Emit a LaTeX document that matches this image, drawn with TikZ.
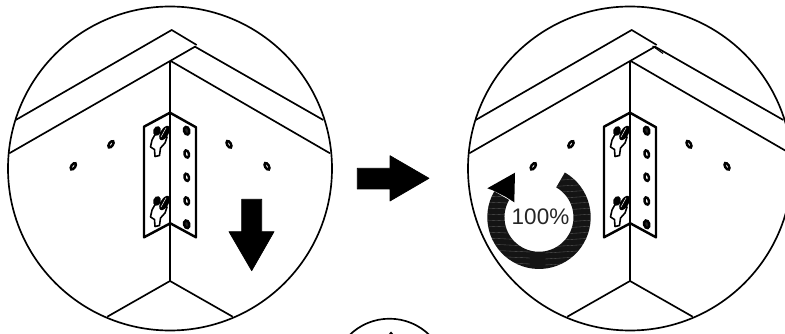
\documentclass[tikz,border=0pt]{standalone}
\usepackage{fontspec}
\setmainfont{Liberation Sans}
\tikzset{
  outline/.style={draw=black,line width=0.95pt},
  bracketline/.style={draw=black,line width=1.4pt,line join=round},
  solidarrow/.style={fill=black,draw=black,line width=0.4pt,line join=round},
  holemark/.style={draw=black,fill=white,line width=1.4pt},
}
\begin{document}
\begin{tikzpicture}[x=0.02cm,y=-0.02cm]
\useasboundingbox (0,0) rectangle (785,334);
\clip (0,0) rectangle (785,334);
% the two round views
\foreach \panelx in {0,460} {
\begin{scope}[xshift=\panelx*0.02cm]
\draw[outline] (170,168.5) circle[radius=162];
\draw[outline] (15.7,120) -- (171.7,30) -- (196.7,45);
\draw[outline] (9.3,153.3) -- (195,46.7) -- (323.3,120);
\draw[outline] (170.7,61) -- (330,153.3);
\draw[outline] (170,61) -- (170,281.5);
\draw[outline] (107.3,316.7) -- (170,281) -- (232.7,316.7);
\draw[bracketline] (144,126.7) -- (170,112.7) -- (196,127.3) -- (196,237.3) -- (170.3,223.3) -- (144,237.3) -- cycle;
% holes in the wall
\foreach \holex/\holey/\holetilt in {111/144.3/-35,73.3/166.3/-35,229/144.3/30,267/166.3/30}
  \draw[holemark] (\holex,\holey) circle[x radius=1.9,y radius=3.7,rotate=\holetilt];
% holes in the bracket
\foreach \holey in {154,177.3,201}
  \draw[holemark] (186.7,\holey) circle[x radius=2.2,y radius=3.7,rotate=15];
\foreach \holey in {130.7,224.3}
  \draw[holemark,fill=black!85] (186.7,\holey) circle[x radius=2.6,y radius=3.9,rotate=15];
% keyholes and screws
\foreach \screwy in {0,70} {
\draw[draw=black,fill=white,line width=0.9pt,line join=round] (157,131+\screwy) -- (152,140+\screwy) -- (150.5,147+\screwy) -- (154.5,149.5+\screwy) -- (155,156.5+\screwy) -- (159.5,155.5+\screwy) -- (160.5,148+\screwy) -- (165,143+\screwy) -- (167,137+\screwy) -- cycle;
\fill[black] (157,131+\screwy) circle[x radius=3.8,y radius=5,rotate=-20];
\fill[black] (164.5,133+\screwy) circle[x radius=4,y radius=8,rotate=-30];
\draw[white,line width=0.3pt] (161,137+\screwy) -- (166,128+\screwy);
}
\end{scope}
}
\draw[line width=0.6pt] (652.5,46) -- (663,53.5);
% arrows
\draw[solidarrow] (241.7,199.3) -- (261.7,199.3) -- (261.7,231.7) -- (274,231.7) -- (251.7,270.7) -- (229,231.7) -- (241.7,231.7) -- cycle;
\draw[solidarrow] (357.3,168.3) -- (390,168.3) -- (390,155.7) -- (429,178.3) -- (390,201) -- (390,189) -- (357.3,189) -- cycle;
% turning arrow
\fill[black!92] (564.85,172.5) arc[start angle=-60,end angle=210,radius=51.7] -- (509.1,200) arc[start angle=210,end angle=-60,radius=34.5] -- cycle;
\fill[black] (487.3,188.3) -- (515,172.7) -- (514.3,202.3) -- (506,197) -- (492,190) -- cycle;
\begin{scope}
\clip (564.85,172.5) arc[start angle=-60,end angle=210,radius=51.7] -- (509.1,200) arc[start angle=210,end angle=-60,radius=34.5] -- cycle;
\foreach \streaky in {178,184,...,269}
  \draw[white,opacity=0.3,line width=0.2pt] (485,\streaky) -- (530,\streaky+2) (545,\streaky+3) -- (595,\streaky);
\end{scope}
\node[inner sep=0pt,text=black!85,font=\fontsize{12.8}{14}\selectfont] (turnlabel) at (540.5,217) {100\%};
% small view at the foot
\draw[outline] (389.5,375.7) circle[radius=57];
\fill[black] (391,331.5) -- (394,335) -- (388,335) -- cycle;
\end{tikzpicture}
\end{document}
